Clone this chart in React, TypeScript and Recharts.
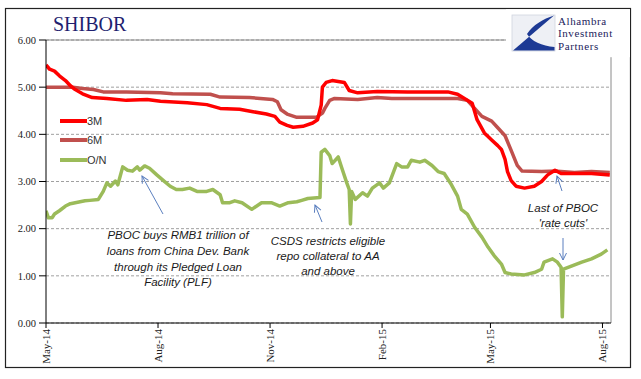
import React from "react";
import {
  LineChart,
  Line,
  XAxis,
  YAxis,
  CartesianGrid,
  ReferenceLine,
  Legend,
} from "recharts";

// Days counted from 1 May 2014
const xTickDays = [0, 92, 184, 276, 365, 457];
const xTickLabels = ["May-14", "Aug-14", "Nov-14", "Feb-15", "May-15", "Aug-15"];
const yTicks = [0, 1, 2, 3, 4, 5, 6];

const threeMDays = [0, 3, 7, 11, 16, 20, 24, 30, 38, 50, 66, 83, 94, 116, 132, 143, 159, 170, 181, 188, 192, 198, 203, 211, 219, 223, 226, 227, 230, 235, 245, 249, 256, 272, 297, 330, 338, 350, 354, 360, 366, 371, 374, 377, 379, 382, 386, 393, 401, 407, 412, 418, 423, 434, 448, 463];
const threeMRates = [5.47, 5.38, 5.34, 5.24, 5.14, 5.03, 4.95, 4.86, 4.78, 4.76, 4.72, 4.74, 4.7, 4.67, 4.63, 4.55, 4.53, 4.48, 4.43, 4.38, 4.26, 4.19, 4.15, 4.17, 4.24, 4.31, 4.62, 5.0, 5.1, 5.14, 5.1, 4.93, 4.88, 4.91, 4.9, 4.9, 4.85, 4.66, 4.31, 4.03, 3.88, 3.76, 3.68, 3.47, 3.21, 3.02, 2.9, 2.86, 2.9, 3.0, 3.14, 3.24, 3.17, 3.17, 3.17, 3.14];

const sixMDays = [0, 22, 30, 39, 47, 66, 94, 104, 135, 143, 167, 176, 186, 190, 193, 198, 206, 222, 227, 229, 233, 237, 256, 272, 284, 338, 346, 352, 358, 366, 371, 377, 382, 387, 391, 407, 420, 434, 448, 463];
const sixMRates = [5.0, 5.0, 4.97, 4.95, 4.9, 4.9, 4.88, 4.86, 4.85, 4.79, 4.78, 4.76, 4.74, 4.69, 4.52, 4.43, 4.36, 4.36, 4.45, 4.55, 4.72, 4.76, 4.74, 4.78, 4.76, 4.76, 4.72, 4.55, 4.38, 4.28, 4.14, 3.97, 3.66, 3.34, 3.22, 3.21, 3.22, 3.19, 3.21, 3.19];

const overnightDays = [0, 2, 5, 7, 11, 16, 20, 24, 28, 32, 36, 43, 47, 50, 53, 57, 59, 63, 67, 71, 75, 77, 81, 85, 91, 96, 102, 107, 112, 118, 124, 132, 137, 143, 145, 151, 155, 161, 169, 177, 185, 192, 199, 206, 210, 215, 225, 226, 229, 233, 235, 240, 243, 247, 249, 250, 251, 254, 260, 264, 268, 274, 277, 282, 288, 292, 297, 300, 307, 311, 317, 322, 327, 333, 338, 341, 346, 352, 358, 363, 368, 374, 377, 382, 393, 401, 407, 409, 416, 420, 423, 424, 425, 432, 440, 448, 456, 461];
const overnightRates = [2.38, 2.23, 2.23, 2.31, 2.38, 2.48, 2.53, 2.55, 2.57, 2.59, 2.6, 2.62, 2.79, 2.97, 2.9, 3.01, 2.93, 3.31, 3.24, 3.22, 3.31, 3.24, 3.33, 3.28, 3.14, 3.03, 2.9, 2.83, 2.83, 2.86, 2.79, 2.79, 2.83, 2.72, 2.55, 2.55, 2.59, 2.55, 2.41, 2.55, 2.55, 2.48, 2.55, 2.57, 2.6, 2.64, 2.66, 3.62, 3.68, 3.55, 3.38, 3.52, 3.28, 2.97, 2.83, 2.1, 2.79, 2.62, 2.76, 2.69, 2.86, 2.97, 2.86, 2.97, 3.38, 3.31, 3.31, 3.45, 3.41, 3.45, 3.34, 3.21, 3.17, 2.93, 2.69, 2.41, 2.31, 2.03, 1.82, 1.61, 1.43, 1.25, 1.07, 1.04, 1.02, 1.07, 1.14, 1.29, 1.36, 1.29, 1.18, 0.13, 1.14, 1.21, 1.29, 1.36, 1.46, 1.55];

const seriesNames = ["3M", "6M", "O/N"];
const seriesColors = ["#ff0000", "#c0504d", "#9bbb59"];

const toPoints = (days: number[], rates: number[]) =>
  days.map((d, i) => ({ d, v: rates[i] }));

const threeMData = toPoints(threeMDays, threeMRates);
const sixMData = toPoints(sixMDays, sixMRates);
const overnightData = toPoints(overnightDays, overnightRates);

const XTick = (props: any) => {
  const { x, y, payload } = props;
  const idx = xTickDays.indexOf(payload.value);
  return (
    <g transform={`translate(${x},${y})`}>
      <text
        transform="rotate(-90)"
        x={0}
        y={0}
        dy="0.34em"
        textAnchor="end"
        fontFamily="'Liberation Serif', serif"
        fontSize={11}
        fill="#222"
      >
        {xTickLabels[idx]}
      </text>
    </g>
  );
};

const LegendContent = () => {
  const order = [0, 1, 2];
  return (
    <div style={{ fontFamily: "'Liberation Sans', Arial, sans-serif", fontSize: 11, color: "#333" }}>
      {order.map((i) => (
        <div key={i} style={{ height: 19.5, display: "flex", alignItems: "center" }}>
          <svg width={27} height={8} style={{ display: "block" }}>
            <line x1={0} y1={4} x2={27} y2={4} stroke={seriesColors[i]} strokeWidth={4} />
          </svg>
          <span style={{ marginLeft: 0 }}>{seriesNames[i]}</span>
        </div>
      ))}
    </div>
  );
};

const arrowColor = "#5b7fbf";

export default function App() {
  return (
    <div style={{ position: "absolute", left: 0, top: 0, width: 641, height: 379, background: "#fff" }}>
      <LineChart
        width={641}
        height={379}
        margin={{ top: 40, right: 30, left: 6, bottom: 11 }}
      >
        <CartesianGrid vertical={false} stroke="#a0a0a0" strokeDasharray="3 2" />
        <XAxis
          type="number"
          dataKey="d"
          domain={[0, 464]}
          ticks={xTickDays}
          interval={0}
          height={45}
          tickSize={5}
          tickMargin={1}
          tick={<XTick />}
          axisLine={{ stroke: "#000", strokeWidth: 1 }}
          tickLine={{ stroke: "#000" }}
          allowDataOverflow
        />
        <YAxis
          type="number"
          domain={[0, 6]}
          ticks={yTicks}
          interval={0}
          width={40}
          tickSize={7}
          tickMargin={3}
          tickFormatter={(v: number) => v.toFixed(2)}
          tick={{ fontFamily: "'Liberation Serif', serif", fontSize: 10.5, fill: "#222" }}
          axisLine={{ stroke: "#000", strokeWidth: 1 }}
          tickLine={{ stroke: "#000" }}
        />
        <ReferenceLine y={6} stroke="#8a8a8a" strokeWidth={1} />
        <ReferenceLine x={464} stroke="#8a8a8a" strokeWidth={1} />
        <Legend
          layout="vertical"
          align="center"
          verticalAlign="middle"
          content={<LegendContent />}
          wrapperStyle={{ left: 60, top: 111, width: 70, right: "auto", bottom: "auto" }}
        />
        <Line
          data={sixMData}
          dataKey="v"
          name="6M"
          type="linear"
          stroke={seriesColors[1]}
          strokeWidth={3.5}
          dot={false}
          activeDot={false}
          isAnimationActive={false}
          strokeLinejoin="round"
        />
        <Line
          data={threeMData}
          dataKey="v"
          name="3M"
          type="linear"
          stroke={seriesColors[0]}
          strokeWidth={3.5}
          dot={false}
          activeDot={false}
          isAnimationActive={false}
          strokeLinejoin="round"
        />
        <Line
          data={overnightData}
          dataKey="v"
          name="O/N"
          type="linear"
          stroke={seriesColors[2]}
          strokeWidth={3.5}
          dot={false}
          activeDot={false}
          isAnimationActive={false}
          strokeLinejoin="round"
        />
      </LineChart>
      <svg
        width={641}
        height={379}
        style={{ position: "absolute", left: 0, top: 0, pointerEvents: "none" }}
      >
        <defs>
          <marker
            id="ah"
            markerWidth={10}
            markerHeight={10}
            refX={8}
            refY={5}
            orient="auto"
            markerUnits="userSpaceOnUse"
          >
            <path d="M1,1.5 L8,5 L1,8.5" fill="none" stroke={arrowColor} strokeWidth={1} />
          </marker>
        </defs>
        <rect x={5.5} y={8.5} width={625} height={359} fill="none" stroke="#222" strokeWidth={1.2} />
        <text x={53} y={31} fontFamily="'Liberation Serif', serif" fontSize={20} fill="#1f1f70">
          SHIBOR
        </text>
        {/* logo */}
        <rect x={506} y={9.2} width={124} height={48} fill="#fff" />
        <rect x={512} y={15} width={43} height={36} fill="#eef0f5" stroke="#d0d4de" strokeWidth={0.8} />
        <path
          d="M554,15.5 L513,50.5 L554.5,50.5 L554.5,47 C542,46 531,41 527,34 C533,25 543,19 554,15.5 Z"
          fill="#1d3a94"
        />
        <g fontFamily="'Liberation Serif', serif" fontSize={11} letterSpacing={0.6} fill="#1c1c5c">
          <text x={558} y={24.5}>Alhambra</text>
          <text x={558} y={37}>Investment</text>
          <text x={558} y={49.5}>Partners</text>
        </g>
        {/* annotations */}
        <g
          fontFamily="'Liberation Sans', Arial, sans-serif"
          fontStyle="italic"
          fontSize={11.5}
          fill="#1a1a1a"
          textAnchor="middle"
        >
          <text x={178} y={239}>PBOC buys RMB1 trillion of</text>
          <text x={178} y={255}>loans from China Dev. Bank</text>
          <text x={178} y={270.5}>through its Pledged Loan</text>
          <text x={178} y={286}>Facility (PLF)</text>
          <text x={328} y={245}>CSDS restricts eligible</text>
          <text x={328} y={260}>repo collateral to AA</text>
          <text x={328} y={275}>and above</text>
          <text x={563} y={212}>Last of PBOC</text>
          <text x={563} y={227}>'rate cuts'</text>
        </g>
        <g stroke={arrowColor} strokeWidth={1} fill="none">
          <line x1={163} y1={214} x2={142} y2={176} markerEnd="url(#ah)" />
          <line x1={322} y1={222} x2={315} y2={205} markerEnd="url(#ah)" />
          <line x1={562} y1={191} x2={557} y2={176} markerEnd="url(#ah)" />
          <line x1={563} y1={238} x2={563} y2={260} markerEnd="url(#ah)" />
        </g>
      </svg>
    </div>
  );
}
